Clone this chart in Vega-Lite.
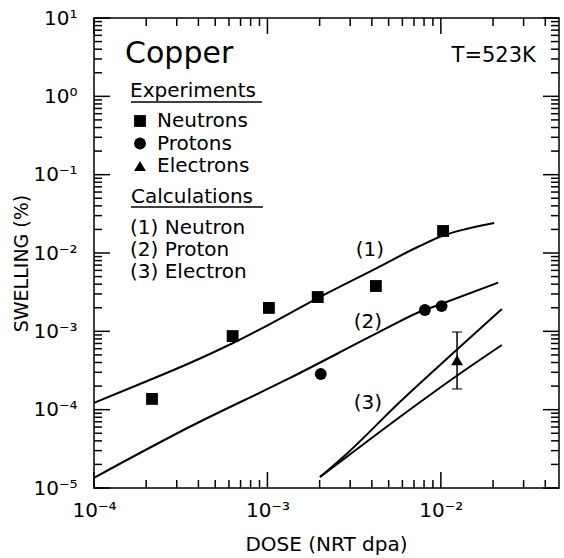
{
  "$schema": "https://vega.github.io/schema/vega-lite/v6.json",
  "width": 465,
  "height": 470,
  "autosize": "none",
  "padding": {"left": 94, "top": 18, "right": 5, "bottom": 70},
  "background": "white",
  "datasets": {
    "curves": [
      {"curve": "1", "calc": "(1) Neutron", "dose": 0.0001, "swelling": 0.000122},
      {"curve": "1", "calc": "(1) Neutron", "dose": 0.000184, "swelling": 0.0002125},
      {"curve": "1", "calc": "(1) Neutron", "dose": 0.000357, "swelling": 0.000394},
      {"curve": "1", "calc": "(1) Neutron", "dose": 0.000633, "swelling": 0.00071},
      {"curve": "1", "calc": "(1) Neutron", "dose": 0.001034, "swelling": 0.00124},
      {"curve": "1", "calc": "(1) Neutron", "dose": 0.00195, "swelling": 0.00266},
      {"curve": "1", "calc": "(1) Neutron", "dose": 0.00427, "swelling": 0.00643},
      {"curve": "1", "calc": "(1) Neutron", "dose": 0.00755, "swelling": 0.01228},
      {"curve": "1", "calc": "(1) Neutron", "dose": 0.01017, "swelling": 0.01648},
      {"curve": "1", "calc": "(1) Neutron", "dose": 0.014, "swelling": 0.02025},
      {"curve": "1", "calc": "(1) Neutron", "dose": 0.0203, "swelling": 0.02415},
      {"curve": "2", "calc": "(2) Proton", "dose": 0.0001, "swelling": 0.0000135},
      {"curve": "2", "calc": "(2) Proton", "dose": 0.000357, "swelling": 0.0000605},
      {"curve": "2", "calc": "(2) Proton", "dose": 0.00135, "swelling": 0.000254},
      {"curve": "2", "calc": "(2) Proton", "dose": 0.00445, "swelling": 0.00099},
      {"curve": "2", "calc": "(2) Proton", "dose": 0.00757, "swelling": 0.00178},
      {"curve": "2", "calc": "(2) Proton", "dose": 0.0103, "swelling": 0.00228},
      {"curve": "2", "calc": "(2) Proton", "dose": 0.0214, "swelling": 0.00418},
      {"curve": "3a", "calc": "(3) Electron", "dose": 0.00201, "swelling": 0.0000138},
      {"curve": "3a", "calc": "(3) Electron", "dose": 0.00286, "swelling": 0.0000272},
      {"curve": "3a", "calc": "(3) Electron", "dose": 0.0058, "swelling": 0.0001253},
      {"curve": "3a", "calc": "(3) Electron", "dose": 0.01231, "swelling": 0.000578},
      {"curve": "3a", "calc": "(3) Electron", "dose": 0.02247, "swelling": 0.00193},
      {"curve": "3b", "calc": "(3) Electron", "dose": 0.00201, "swelling": 0.0000138},
      {"curve": "3b", "calc": "(3) Electron", "dose": 0.00286, "swelling": 0.0000249},
      {"curve": "3b", "calc": "(3) Electron", "dose": 0.0058, "swelling": 0.0000806},
      {"curve": "3b", "calc": "(3) Electron", "dose": 0.01231, "swelling": 0.000269},
      {"curve": "3b", "calc": "(3) Electron", "dose": 0.02247, "swelling": 0.000669}
    ],
    "experiments": [
      {"type": "Neutrons", "dose": 0.000216, "swelling": 0.000137},
      {"type": "Neutrons", "dose": 0.00063, "swelling": 0.00087},
      {"type": "Neutrons", "dose": 0.00102, "swelling": 0.00199},
      {"type": "Neutrons", "dose": 0.00195, "swelling": 0.00274},
      {"type": "Neutrons", "dose": 0.00422, "swelling": 0.00379},
      {"type": "Neutrons", "dose": 0.0103, "swelling": 0.0191},
      {"type": "Protons", "dose": 0.00203, "swelling": 0.000285},
      {"type": "Protons", "dose": 0.00809, "swelling": 0.00187},
      {"type": "Protons", "dose": 0.0101, "swelling": 0.0021},
      {"type": "Electrons", "dose": 0.0124, "swelling": 0.00043, "lo": 0.000184, "hi": 0.00098}
    ],
    "xmajor": [{"v": 0.0001}, {"v": 0.001}, {"v": 0.01}],
    "xminor": [
      {"v": 0.0002}, {"v": 0.0003}, {"v": 0.0004}, {"v": 0.0005}, {"v": 0.0006}, {"v": 0.0007}, {"v": 0.0008}, {"v": 0.0009},
      {"v": 0.002}, {"v": 0.003}, {"v": 0.004}, {"v": 0.005}, {"v": 0.006}, {"v": 0.007}, {"v": 0.008}, {"v": 0.009},
      {"v": 0.02}, {"v": 0.03}, {"v": 0.04}
    ],
    "ymajor": [{"v": 0.00001}, {"v": 0.0001}, {"v": 0.001}, {"v": 0.01}, {"v": 0.1}, {"v": 1}, {"v": 10}],
    "yminor": [
      {"v": 0.00002}, {"v": 0.00003}, {"v": 0.00004}, {"v": 0.00005}, {"v": 0.00006}, {"v": 0.00007}, {"v": 0.00008}, {"v": 0.00009},
      {"v": 0.0002}, {"v": 0.0003}, {"v": 0.0004}, {"v": 0.0005}, {"v": 0.0006}, {"v": 0.0007}, {"v": 0.0008}, {"v": 0.0009},
      {"v": 0.002}, {"v": 0.003}, {"v": 0.004}, {"v": 0.005}, {"v": 0.006}, {"v": 0.007}, {"v": 0.008}, {"v": 0.009},
      {"v": 0.02}, {"v": 0.03}, {"v": 0.04}, {"v": 0.05}, {"v": 0.06}, {"v": 0.07}, {"v": 0.08}, {"v": 0.09},
      {"v": 0.2}, {"v": 0.3}, {"v": 0.4}, {"v": 0.5}, {"v": 0.6}, {"v": 0.7}, {"v": 0.8}, {"v": 0.9},
      {"v": 2}, {"v": 3}, {"v": 4}, {"v": 5}, {"v": 6}, {"v": 7}, {"v": 8}, {"v": 9}
    ]
  },
  "resolve": {"axis": {"x": "independent", "y": "independent"}},
  "layer": [
    {
      "data": {"name": "curves"},
      "mark": {"type": "line", "strokeWidth": 2, "interpolate": "monotone"},
      "encoding": {
        "x": {"field": "dose", "type": "quantitative",
          "scale": {"type": "log", "domain": [0.0001, 0.048], "nice": false},
          "axis": {"orient": "bottom", "values": [0.0001, 0.001, 0.01],
            "ticks": false, "domain": false, "grid": false, "labelPadding": 12,
            "labelFlush": false, "labelOverlap": false,
            "labelExpr": "datum.value > 0.005 ? '10⁻²' : datum.value > 0.0005 ? '10⁻³' : '10⁻⁴'",
            "title": "DOSE (NRT dpa)", "titleFontSize": 20, "titleX": 232, "titleY": 62,
            "titleBaseline": "alphabetic", "titleAlign": "center"}},
        "y": {"field": "swelling", "type": "quantitative",
          "scale": {"type": "log", "domain": [0.00001, 10], "nice": false},
          "axis": {"orient": "left", "values": [0.00001, 0.0001, 0.001, 0.01, 0.1, 1, 10],
            "ticks": false, "domain": false, "grid": false, "labelPadding": 17,
            "labelFlush": false, "labelOverlap": false,
            "labelExpr": "datum.value > 5 ? '10¹' : datum.value > 0.5 ? '10⁰' : datum.value > 0.05 ? '10⁻¹' : datum.value > 0.005 ? '10⁻²' : datum.value > 0.0005 ? '10⁻³' : datum.value > 0.00005 ? '10⁻⁴' : '10⁻⁵'",
            "title": "SWELLING (%)", "titleFontSize": 19, "titleX": -73, "titleY": 245, "titleAngle": -90,
            "titleAlign": "center", "titleBaseline": "middle"}},
        "detail": {"field": "curve"},
        "stroke": {"field": "calc", "type": "nominal",
          "scale": {"domain": ["(1) Neutron", "(2) Proton", "(3) Electron"], "range": ["black", "black", "black"]},
          "legend": {"title": "Calculations", "orient": "none", "legendX": 37, "legendY": 169, "titlePadding": 11,
            "rowPadding": 2, "symbolSize": 0, "symbolOpacity": 0, "symbolStrokeWidth": 0, "labelOffset": -21}}
      }
    },
    {
      "data": {"name": "experiments"},
      "mark": {"type": "point", "filled": true, "color": "black", "opacity": 1, "size": 140},
      "encoding": {
        "x": {"field": "dose", "type": "quantitative",
          "scale": {"type": "log", "domain": [0.0001, 0.048], "nice": false}, "axis": null},
        "y": {"field": "swelling", "type": "quantitative",
          "scale": {"type": "log", "domain": [0.00001, 10], "nice": false}, "axis": null},
        "shape": {"field": "type", "type": "nominal",
          "scale": {"domain": ["Neutrons", "Protons", "Electrons"], "range": ["square", "circle", "triangle-up"]},
          "legend": {"title": "Experiments", "orient": "none", "legendX": 36, "legendY": 63, "titlePadding": 10,
            "rowPadding": 2.5, "symbolSize": 140, "symbolFillColor": "black", "symbolStrokeColor": "black",
            "symbolStrokeWidth": 0, "labelOffset": 7}}
      }
    },
    {
      "data": {"name": "experiments"},
      "transform": [{"filter": "datum.type === 'Electrons'"}],
      "mark": {"type": "errorbar", "ticks": {"size": 10, "thickness": 1.5, "color": "black"}, "rule": {"strokeWidth": 1.5, "color": "black"}},
      "encoding": {
        "x": {"field": "dose", "type": "quantitative",
          "scale": {"type": "log", "domain": [0.0001, 0.048], "nice": false}, "axis": null},
        "y": {"field": "lo", "type": "quantitative",
          "scale": {"type": "log", "domain": [0.00001, 10], "nice": false}, "axis": null},
        "y2": {"field": "hi"}
      }
    },
    {
      "data": {"values": [{}]},
      "mark": {"type": "text", "fontSize": 30, "align": "left", "baseline": "alphabetic", "color": "black"},
      "encoding": {
        "x": {"datum": 0.000151, "type": "quantitative", "scale": {"type": "log", "domain": [0.0001, 0.048], "nice": false}, "axis": null},
        "y": {"datum": 2.66, "type": "quantitative", "scale": {"type": "log", "domain": [0.00001, 10], "nice": false}, "axis": null},
        "text": {"value": "Copper"}
      }
    },
    {
      "data": {"values": [{}]},
      "mark": {"type": "text", "fontSize": 21, "align": "right", "baseline": "alphabetic", "color": "black"},
      "encoding": {
        "x": {"datum": 0.0353, "type": "quantitative", "scale": {"type": "log", "domain": [0.0001, 0.048], "nice": false}, "axis": null},
        "y": {"datum": 2.74, "type": "quantitative", "scale": {"type": "log", "domain": [0.00001, 10], "nice": false}, "axis": null},
        "text": {"value": "T=523K"}
      }
    },
    {
      "data": {"values": [{}]},
      "mark": {"type": "text", "fontSize": 20, "align": "center", "baseline": "middle", "color": "black"},
      "encoding": {
        "x": {"datum": 0.0039, "type": "quantitative", "scale": {"type": "log", "domain": [0.0001, 0.048], "nice": false}, "axis": null},
        "y": {"datum": 0.0109, "type": "quantitative", "scale": {"type": "log", "domain": [0.00001, 10], "nice": false}, "axis": null},
        "text": {"value": "(1)"}
      }
    },
    {
      "data": {"values": [{}]},
      "mark": {"type": "text", "fontSize": 20, "align": "center", "baseline": "middle", "color": "black"},
      "encoding": {
        "x": {"datum": 0.0038, "type": "quantitative", "scale": {"type": "log", "domain": [0.0001, 0.048], "nice": false}, "axis": null},
        "y": {"datum": 0.00132, "type": "quantitative", "scale": {"type": "log", "domain": [0.00001, 10], "nice": false}, "axis": null},
        "text": {"value": "(2)"}
      }
    },
    {
      "data": {"values": [{}]},
      "mark": {"type": "text", "fontSize": 20, "align": "center", "baseline": "middle", "color": "black"},
      "encoding": {
        "x": {"datum": 0.0038, "type": "quantitative", "scale": {"type": "log", "domain": [0.0001, 0.048], "nice": false}, "axis": null},
        "y": {"datum": 0.000122, "type": "quantitative", "scale": {"type": "log", "domain": [0.00001, 10], "nice": false}, "axis": null},
        "text": {"value": "(3)"}
      }
    },
    {
      "data": {"values": [{}]},
      "mark": {"type": "rule", "strokeWidth": 1.5, "color": "black"},
      "encoding": {
        "x": {"datum": 0.0001633, "type": "quantitative", "scale": {"type": "log", "domain": [0.0001, 0.048], "nice": false}, "axis": null},
        "x2": {"datum": 0.000929},
        "y": {"datum": 0.846, "type": "quantitative", "scale": {"type": "log", "domain": [0.00001, 10], "nice": false}, "axis": null}
      }
    },
    {
      "data": {"values": [{}]},
      "mark": {"type": "rule", "strokeWidth": 1.5, "color": "black"},
      "encoding": {
        "x": {"datum": 0.0001633, "type": "quantitative", "scale": {"type": "log", "domain": [0.0001, 0.048], "nice": false}, "axis": null},
        "x2": {"datum": 0.000942},
        "y": {"datum": 0.0386, "type": "quantitative", "scale": {"type": "log", "domain": [0.00001, 10], "nice": false}, "axis": null}
      }
    },
    {
      "data": {"name": "xmajor"},
      "mark": {"type": "rule", "strokeWidth": 1.5, "color": "black"},
      "encoding": {
        "x": {"field": "v", "type": "quantitative", "scale": {"type": "log", "domain": [0.0001, 0.048], "nice": false}, "axis": null},
        "y": {"datum": 0.00001, "type": "quantitative", "scale": {"type": "log", "domain": [0.00001, 10], "nice": false}, "axis": null},
        "y2": {"datum": 0.000016}
      }
    },
    {
      "data": {"name": "xmajor"},
      "mark": {"type": "rule", "strokeWidth": 1.5, "color": "black"},
      "encoding": {
        "x": {"field": "v", "type": "quantitative", "scale": {"type": "log", "domain": [0.0001, 0.048], "nice": false}, "axis": null},
        "y": {"datum": 10, "type": "quantitative", "scale": {"type": "log", "domain": [0.00001, 10], "nice": false}, "axis": null},
        "y2": {"datum": 6.25}
      }
    },
    {
      "data": {"name": "xminor"},
      "mark": {"type": "rule", "strokeWidth": 1.5, "color": "black"},
      "encoding": {
        "x": {"field": "v", "type": "quantitative", "scale": {"type": "log", "domain": [0.0001, 0.048], "nice": false}, "axis": null},
        "y": {"datum": 0.00001, "type": "quantitative", "scale": {"type": "log", "domain": [0.00001, 10], "nice": false}, "axis": null},
        "y2": {"datum": 0.00001265}
      }
    },
    {
      "data": {"name": "xminor"},
      "mark": {"type": "rule", "strokeWidth": 1.5, "color": "black"},
      "encoding": {
        "x": {"field": "v", "type": "quantitative", "scale": {"type": "log", "domain": [0.0001, 0.048], "nice": false}, "axis": null},
        "y": {"datum": 10, "type": "quantitative", "scale": {"type": "log", "domain": [0.00001, 10], "nice": false}, "axis": null},
        "y2": {"datum": 7.9}
      }
    },
    {
      "data": {"name": "ymajor"},
      "mark": {"type": "rule", "strokeWidth": 1.5, "color": "black"},
      "encoding": {
        "y": {"field": "v", "type": "quantitative", "scale": {"type": "log", "domain": [0.00001, 10], "nice": false}, "axis": null},
        "x": {"datum": 0.0001, "type": "quantitative", "scale": {"type": "log", "domain": [0.0001, 0.048], "nice": false}, "axis": null},
        "x2": {"datum": 0.0001236}
      }
    },
    {
      "data": {"name": "ymajor"},
      "mark": {"type": "rule", "strokeWidth": 1.5, "color": "black"},
      "encoding": {
        "y": {"field": "v", "type": "quantitative", "scale": {"type": "log", "domain": [0.00001, 10], "nice": false}, "axis": null},
        "x": {"datum": 0.048, "type": "quantitative", "scale": {"type": "log", "domain": [0.0001, 0.048], "nice": false}, "axis": null},
        "x2": {"datum": 0.0388}
      }
    },
    {
      "data": {"name": "yminor"},
      "mark": {"type": "rule", "strokeWidth": 1.5, "color": "black"},
      "encoding": {
        "y": {"field": "v", "type": "quantitative", "scale": {"type": "log", "domain": [0.00001, 10], "nice": false}, "axis": null},
        "x": {"datum": 0.0001, "type": "quantitative", "scale": {"type": "log", "domain": [0.0001, 0.048], "nice": false}, "axis": null},
        "x2": {"datum": 0.0001112}
      }
    },
    {
      "data": {"name": "yminor"},
      "mark": {"type": "rule", "strokeWidth": 1.5, "color": "black"},
      "encoding": {
        "y": {"field": "v", "type": "quantitative", "scale": {"type": "log", "domain": [0.00001, 10], "nice": false}, "axis": null},
        "x": {"datum": 0.048, "type": "quantitative", "scale": {"type": "log", "domain": [0.0001, 0.048], "nice": false}, "axis": null},
        "x2": {"datum": 0.04317}
      }
    }
  ],
  "config": {
    "font": "DejaVu Sans",
    "view": {"stroke": "black", "strokeWidth": 1.5},
    "axis": {"labelFont": "DejaVu Sans", "labelFontSize": 20, "labelColor": "black",
      "titleFont": "DejaVu Sans", "titleFontWeight": "normal", "titleColor": "black"},
    "legend": {"titleFont": "DejaVu Sans", "titleFontSize": 20, "titleFontWeight": "normal", "titleColor": "black",
      "labelFont": "DejaVu Sans", "labelFontSize": 20, "labelColor": "black", "padding": 0, "titleAnchor": "start",
      "labelLimit": 300, "titleLimit": 300}
  }
}
